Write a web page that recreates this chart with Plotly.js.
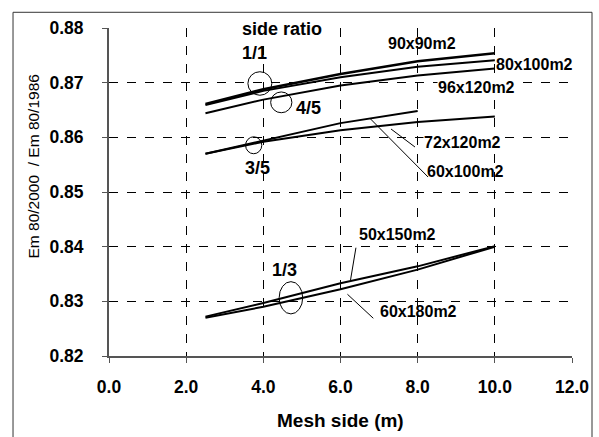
<!DOCTYPE html>
<html>
<head>
<meta charset="utf-8">
<script src="https://cdn.plot.ly/plotly-3.0.1.min.js"></script>
<style>
html,body{margin:0;padding:0;background:#fff;}
#chart{width:599px;height:437px;}
</style>
</head>
<body>
<div id="chart"></div>
<script>
// Mesh side (m)
var meshSide = [2.5, 4, 6, 8, 10];
var meshSideShort = [2.5, 4, 6, 8];
// Em 80/2000 / Em 80/1986 for each area
var s90x90   = [0.8661, 0.8688, 0.8716, 0.8739, 0.8754];
var s80x100  = [0.8659, 0.8685, 0.8710, 0.8729, 0.8741];
var s96x120  = [0.8644, 0.8669, 0.8695, 0.8713, 0.8726];
var s60x100  = [0.8570, 0.8594, 0.8626, 0.8648];
var s72x120  = [0.8570, 0.8592, 0.8613, 0.8628, 0.8638];
var s50x150  = [0.8272, 0.8297, 0.8333, 0.8364, 0.8401];
var s60x180  = [0.8270, 0.8290, 0.8322, 0.8358, 0.8400];

var xTicks = [0, 2, 4, 6, 8, 10, 12];
var yTicks = [0.82, 0.83, 0.84, 0.85, 0.86, 0.87, 0.88];

var FONT = 'Liberation Sans, Arial, sans-serif';

function line(name, xs, ys, w) {
  return {type: 'scatter', mode: 'lines', name: name, x: xs, y: ys,
          line: {color: '#000', width: w}, hoverinfo: 'skip'};
}

var traces = [
  line('90x90m2', meshSide, s90x90, 2.5),
  line('80x100m2', meshSide, s80x100, 2),
  line('96x120m2', meshSide, s96x120, 2),
  line('60x100m2', meshSideShort, s60x100, 2),
  line('72x120m2', meshSide, s72x120, 2),
  line('50x150m2', meshSide, s50x150, 2),
  line('60x180m2', meshSide, s60x180, 2)
];

function txt(t, x, y, size, bold, bg) {
  return {text: t, x: x, y: y, xref: 'x', yref: 'y', showarrow: false,
          xanchor: 'center', yanchor: 'middle',
          bgcolor: bg ? '#fff' : 'rgba(0,0,0,0)', borderpad: 0,
          font: {family: FONT, size: size, color: '#000', weight: bold ? 'bold' : 'normal'}};
}

var annotations = [
  txt('side ratio', 4.48, 0.8798, 18, true, true),
  txt('1/1', 3.76, 0.8754, 18, true),
  txt('4/5', 5.18, 0.8654, 18, true),
  txt('3/5', 3.86, 0.8544, 18, true),
  txt('1/3', 4.56, 0.8357, 18, true),
  txt('90x90m2', 8.10, 0.8771, 16, true),
  txt('80x100m2', 11.04, 0.8734, 16, true, true),
  txt('96x120m2', 9.53, 0.8691, 16, true, true),
  txt('72x120m2', 9.17, 0.8590, 16, true, true),
  txt('60x100m2', 9.23, 0.8537, 16, true),
  txt('50x150m2', 7.48, 0.8423, 16, true, true),
  txt('60x180m2', 8.01, 0.8281, 16, true),
  // axis titles
  {text: 'Em 80/2000  / Em 80/1986', xref: 'paper', yref: 'paper', x: -0.164, y: 0.578,
   textangle: -90, showarrow: false, xanchor: 'center', yanchor: 'middle',
   font: {family: FONT, size: 15.5, color: '#000'}},
  {text: 'Mesh side (m)', xref: 'paper', yref: 'paper', x: 0.5, y: -0.196,
   showarrow: false, xanchor: 'center', yanchor: 'middle',
   font: {family: FONT, size: 19, color: '#000', weight: 'bold'}}
];

function ell(x0, x1, y0, y1) {
  return {type: 'circle', xref: 'x', yref: 'y', x0: x0, x1: x1, y0: y0, y1: y1,
          line: {color: '#000', width: 1}};
}
function seg(x0, y0, x1, y1) {
  return {type: 'line', xref: 'x', yref: 'y', x0: x0, y0: y0, x1: x1, y1: y1,
          line: {color: '#000', width: 1}};
}

var shapes = [
  ell(3.60, 4.22, 0.8677, 0.8720),
  ell(4.19, 4.74, 0.8645, 0.8683),
  ell(3.54, 3.96, 0.8570, 0.8601),
  ell(4.41, 5.02, 0.8277, 0.8336),
  seg(7.31, 0.86152, 7.93, 0.85823),
  seg(6.78, 0.86335, 8.27, 0.85274),
  seg(6.40, 0.83981, 6.26, 0.83390),
  seg(6.18, 0.83129, 6.85, 0.82690),
  // outer frame
  {type: 'rect', xref: 'paper', yref: 'paper', x0: -0.2073, x1: 1.0432, y0: -0.30, y1: 1.0479,
   line: {color: '#333', width: 1}, layer: 'below'}
];

var layout = {
  width: 599, height: 437,
  margin: {l: 109, r: 27, t: 28, b: 81},
  paper_bgcolor: '#fff', plot_bgcolor: '#fff',
  showlegend: false,
  font: {family: FONT, color: '#000'},
  xaxis: {
    range: [0, 12], tickvals: xTicks, tickformat: '.1f',
    showgrid: true, gridcolor: '#000', griddash: 'dash', gridwidth: 1,
    zeroline: false, showline: true, linecolor: '#555', linewidth: 2,
    ticks: 'outside', ticklen: 5, tickcolor: '#555', tickwidth: 1,
    ticklabelstandoff: 9,
    tickfont: {family: FONT, size: 17.5, weight: 'bold', color: '#000'},
    fixedrange: true
  },
  yaxis: {
    range: [0.82, 0.88], tickvals: yTicks, tickformat: '.2f',
    showgrid: true, gridcolor: '#000', griddash: 'dash', gridwidth: 1,
    zeroline: false, showline: true, linecolor: '#555', linewidth: 2,
    ticks: 'outside', ticklen: 5, tickcolor: '#555', tickwidth: 1,
    ticklabelstandoff: 15,
    tickfont: {family: FONT, size: 17.5, weight: 'bold', color: '#000'},
    fixedrange: true
  },
  annotations: annotations,
  shapes: shapes
};

Plotly.newPlot('chart', traces, layout, {displayModeBar: false, staticPlot: true});
</script>
</body>
</html>
